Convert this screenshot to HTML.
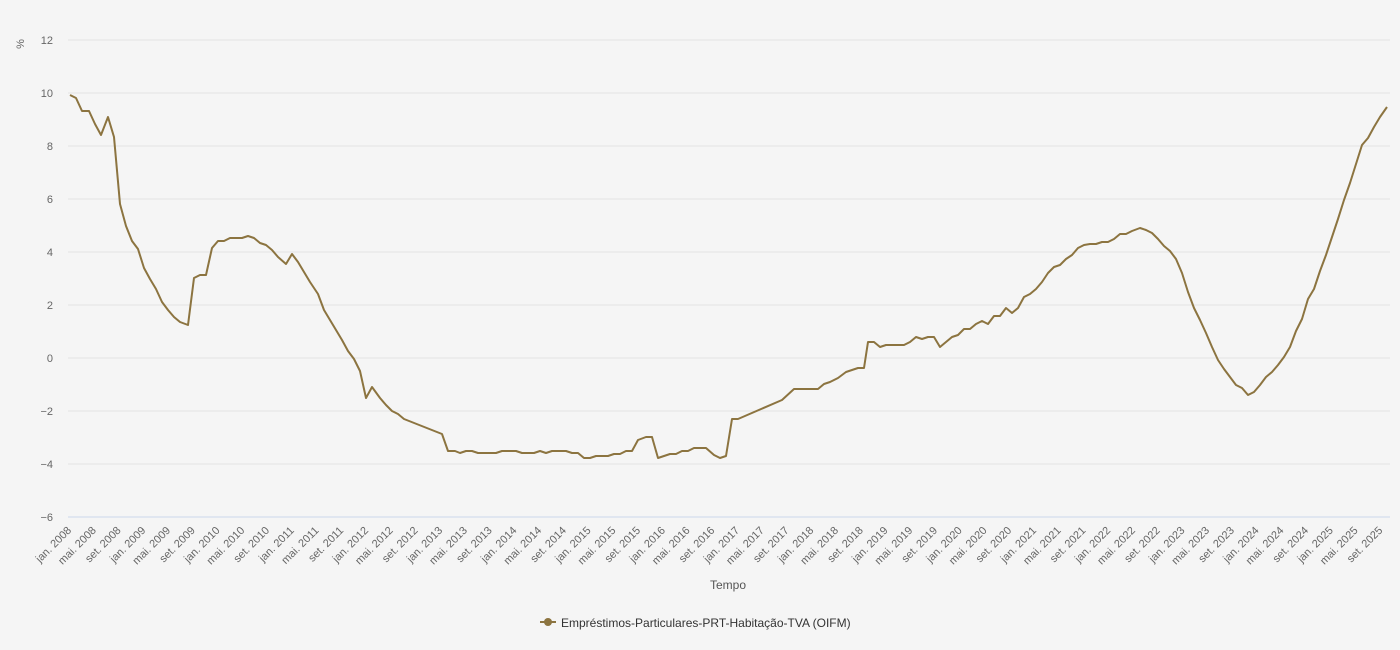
<!DOCTYPE html>
<html><head><meta charset="utf-8"><style>
body{margin:0;background:#f5f5f5;}
svg{display:block;font-family:"Liberation Sans","DejaVu Sans",sans-serif;}
</style></head><body>
<svg width="1400" height="650" viewBox="0 0 1400 650" xmlns="http://www.w3.org/2000/svg">
<rect width="1400" height="650" fill="#f5f5f5"/>
<g stroke="#e3e3e3" stroke-width="1">
<line x1="68" x2="1390" y1="40" y2="40"/><line x1="68" x2="1390" y1="93" y2="93"/>
<line x1="68" x2="1390" y1="146" y2="146"/><line x1="68" x2="1390" y1="199" y2="199"/>
<line x1="68" x2="1390" y1="252" y2="252"/><line x1="68" x2="1390" y1="305" y2="305"/>
<line x1="68" x2="1390" y1="358" y2="358"/><line x1="68" x2="1390" y1="411" y2="411"/>
<line x1="68" x2="1390" y1="464" y2="464"/>
</g>
<line x1="68" x2="1390" y1="517" y2="517" stroke="#ccd6eb"/>
<g font-size="11" fill="#666" text-anchor="end">
<text x="53" y="44">12</text><text x="53" y="97">10</text><text x="53" y="150">8</text>
<text x="53" y="203">6</text><text x="53" y="256">4</text><text x="53" y="309">2</text>
<text x="53" y="362">0</text><text x="53" y="415">−2</text><text x="53" y="468">−4</text>
<text x="53" y="521">−6</text>
</g>
<text x="0" y="0" font-size="11" fill="#666" transform="translate(24,44) rotate(-90)" text-anchor="middle">%</text>
<g font-size="11" fill="#666" text-anchor="end">
<text transform="translate(72.0,531) rotate(-45)">jan. 2008</text>
<text transform="translate(96.7,531) rotate(-45)">mai. 2008</text>
<text transform="translate(121.5,531) rotate(-45)">set. 2008</text>
<text transform="translate(146.2,531) rotate(-45)">jan. 2009</text>
<text transform="translate(171.0,531) rotate(-45)">mai. 2009</text>
<text transform="translate(195.7,531) rotate(-45)">set. 2009</text>
<text transform="translate(220.4,531) rotate(-45)">jan. 2010</text>
<text transform="translate(245.2,531) rotate(-45)">mai. 2010</text>
<text transform="translate(269.9,531) rotate(-45)">set. 2010</text>
<text transform="translate(294.7,531) rotate(-45)">jan. 2011</text>
<text transform="translate(319.4,531) rotate(-45)">mai. 2011</text>
<text transform="translate(344.1,531) rotate(-45)">set. 2011</text>
<text transform="translate(368.9,531) rotate(-45)">jan. 2012</text>
<text transform="translate(393.6,531) rotate(-45)">mai. 2012</text>
<text transform="translate(418.4,531) rotate(-45)">set. 2012</text>
<text transform="translate(443.1,531) rotate(-45)">jan. 2013</text>
<text transform="translate(467.8,531) rotate(-45)">mai. 2013</text>
<text transform="translate(492.6,531) rotate(-45)">set. 2013</text>
<text transform="translate(517.3,531) rotate(-45)">jan. 2014</text>
<text transform="translate(542.1,531) rotate(-45)">mai. 2014</text>
<text transform="translate(566.8,531) rotate(-45)">set. 2014</text>
<text transform="translate(591.5,531) rotate(-45)">jan. 2015</text>
<text transform="translate(616.3,531) rotate(-45)">mai. 2015</text>
<text transform="translate(641.0,531) rotate(-45)">set. 2015</text>
<text transform="translate(665.8,531) rotate(-45)">jan. 2016</text>
<text transform="translate(690.5,531) rotate(-45)">mai. 2016</text>
<text transform="translate(715.2,531) rotate(-45)">set. 2016</text>
<text transform="translate(740.0,531) rotate(-45)">jan. 2017</text>
<text transform="translate(764.7,531) rotate(-45)">mai. 2017</text>
<text transform="translate(789.5,531) rotate(-45)">set. 2017</text>
<text transform="translate(814.2,531) rotate(-45)">jan. 2018</text>
<text transform="translate(838.9,531) rotate(-45)">mai. 2018</text>
<text transform="translate(863.7,531) rotate(-45)">set. 2018</text>
<text transform="translate(888.4,531) rotate(-45)">jan. 2019</text>
<text transform="translate(913.2,531) rotate(-45)">mai. 2019</text>
<text transform="translate(937.9,531) rotate(-45)">set. 2019</text>
<text transform="translate(962.6,531) rotate(-45)">jan. 2020</text>
<text transform="translate(987.4,531) rotate(-45)">mai. 2020</text>
<text transform="translate(1012.1,531) rotate(-45)">set. 2020</text>
<text transform="translate(1036.9,531) rotate(-45)">jan. 2021</text>
<text transform="translate(1061.6,531) rotate(-45)">mai. 2021</text>
<text transform="translate(1086.3,531) rotate(-45)">set. 2021</text>
<text transform="translate(1111.1,531) rotate(-45)">jan. 2022</text>
<text transform="translate(1135.8,531) rotate(-45)">mai. 2022</text>
<text transform="translate(1160.6,531) rotate(-45)">set. 2022</text>
<text transform="translate(1185.3,531) rotate(-45)">jan. 2023</text>
<text transform="translate(1210.0,531) rotate(-45)">mai. 2023</text>
<text transform="translate(1234.8,531) rotate(-45)">set. 2023</text>
<text transform="translate(1259.5,531) rotate(-45)">jan. 2024</text>
<text transform="translate(1284.3,531) rotate(-45)">mai. 2024</text>
<text transform="translate(1309.0,531) rotate(-45)">set. 2024</text>
<text transform="translate(1333.7,531) rotate(-45)">jan. 2025</text>
<text transform="translate(1358.5,531) rotate(-45)">mai. 2025</text>
<text transform="translate(1383.2,531) rotate(-45)">set. 2025</text>
</g>
<text x="728" y="589" font-size="12" fill="#555" text-anchor="middle">Tempo</text>
<polyline fill="none" stroke="#8c7440" stroke-width="2" stroke-linejoin="round" points="70,95 76,98 82,111 89,111 95,124 101,135 108,117 114,137 120,204 126,226 132,241 138,249 144,268 150,279 156,289 162,302 168,310 174,317 180,322 188,325 194,278 200,275 206,275 212,248 218,241 224,241 230,238 236,238 242,238 248,236 254,238 260,243 266,245 272,250 278,257 286,264 292,254 298,262 304,272 310,282 318,294 324,310 330,320 336,330 342,340 348,351 354,359 360,371 366,398 372,387 380,398 386,405 392,411 398,414 404,419 442,434 448,451 455,451 460,453 466,451 472,451 478,453 496,453 502,451 516,451 522,453 534,453 540,451 546,453 552,451 566,451 572,453 578,453 584,458 590,458 596,456 608,456 614,454 620,454 626,451 632,451 638,440 646,437 652,437 658,458 664,456 670,454 676,454 682,451 688,451 694,448 706,448 714,455 720,458 726,456 732,419 738,419 782,400 794,389 818,389 824,384 830,382 838,378 846,372 852,370 858,368 864,368 868,342 874,342 880,347 886,345 904,345 910,342 916,337 922,339 928,337 934,337 940,347 946,342 952,337 958,335 964,329 970,329 976,324 982,321 988,324 994,316 1000,316 1006,308 1012,313 1018,308 1024,297 1030,294 1036,289 1042,282 1048,273 1054,267 1060,265 1066,259 1072,255 1078,248 1084,245 1090,244 1096,244 1102,242 1108,242 1114,239 1120,234 1126,234 1132,231 1140,228 1146,230 1152,233 1158,239 1164,246 1170,251 1176,259 1182,273 1188,292 1194,308 1200,320 1206,333 1212,347 1218,360 1224,369 1230,377 1236,385 1242,388 1248,395 1254,392 1260,385 1266,377 1272,372 1278,365 1284,357 1290,347 1296,331 1302,319 1308,299 1314,289 1320,271 1326,255 1332,237 1338,219 1344,200 1350,183 1356,164 1362,145 1368,138 1374,127 1380,117 1387,107"/>
<line x1="540" x2="556" y1="622" y2="622" stroke="#8c7440" stroke-width="2"/>
<circle cx="548" cy="622" r="4" fill="#8c7440"/>
<text x="561" y="627" font-size="12" fill="#333">Empréstimos-Particulares-PRT-Habitação-TVA (OIFM)</text>
</svg>
</body></html>
